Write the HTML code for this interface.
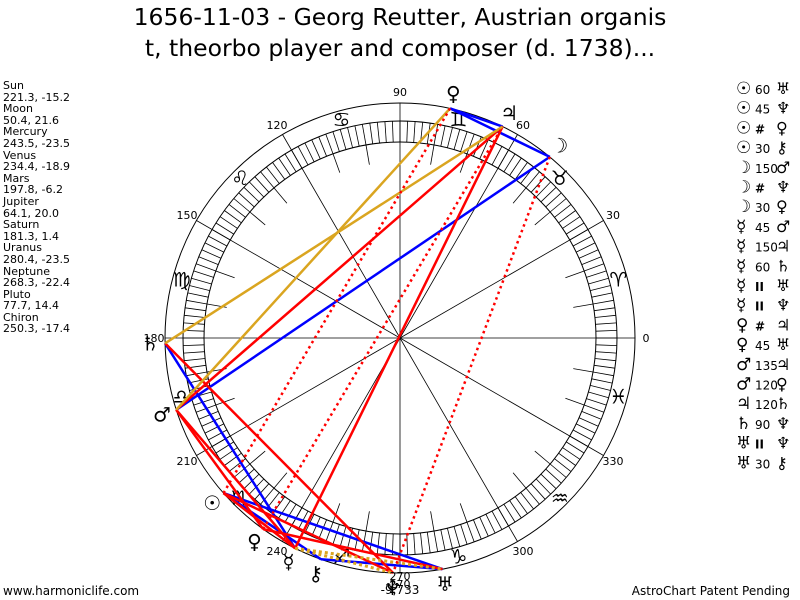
<!DOCTYPE html>
<html><head><meta charset="utf-8"><style>
body{margin:0;background:#fff;width:800px;height:600px;overflow:hidden;position:relative;font-family:"DejaVu Sans","Liberation Sans",sans-serif}
.t{position:absolute;left:0;width:800px;text-align:center;font-size:23.5px;color:#000;white-space:nowrap}
#left{position:absolute;left:3px;top:80px;font-size:11px;line-height:11.6px;color:#000}
</style></head><body>
<div class="t" style="top:3px">1656-11-03 - Georg Reutter, Austrian organis</div>
<div class="t" style="top:34px">t, theorbo player and composer (d. 1738)...</div>
<div id="left">Sun<br>221.3, -15.2<br>Moon<br>50.4, 21.6<br>Mercury<br>243.5, -23.5<br>Venus<br>234.4, -18.9<br>Mars<br>197.8, -6.2<br>Jupiter<br>64.1, 20.0<br>Saturn<br>181.3, 1.4<br>Uranus<br>280.4, -23.5<br>Neptune<br>268.3, -22.4<br>Pluto<br>77.7, 14.4<br>Chiron<br>250.3, -17.4</div>
<svg id="s" width="800" height="600" style="position:absolute;left:0;top:0" xmlns="http://www.w3.org/2000/svg"></svg>
<script>
var s=document.getElementById('s'),cx=400,cy=338,h='';
function P(a,r){var t=a*Math.PI/180;return [cx+r*Math.cos(t),cy-r*Math.sin(t)];}
function L(a,b,st){h+='<line x1="'+a[0].toFixed(1)+'" y1="'+a[1].toFixed(1)+'" x2="'+b[0].toFixed(1)+'" y2="'+b[1].toFixed(1)+'" '+st+'/>';}
function T(x,y,txt,st){h+='<text x="'+x.toFixed(1)+'" y="'+y.toFixed(1)+'" '+st+'>'+txt+'</text>';}
h+='<circle cx="400" cy="338" r="235" fill="none" stroke="#000" stroke-width="1"/>';
h+='<circle cx="400" cy="338" r="217" fill="none" stroke="#000" stroke-width="1"/>';
h+='<circle cx="400" cy="338" r="196" fill="none" stroke="#000" stroke-width="1"/>';
for(var a=0;a<360;a+=2)L(P(a,196),P(a,217),'stroke="#000" stroke-width="0.8"');
for(var a=10;a<360;a+=10)if(a%30)L(P(a,176),P(a,196),'stroke="#000" stroke-width="0.8"');
for(var a=0;a<360;a+=30)L(P(a,0),P(a,235),'stroke="#000" stroke-width="0.8"');
for(var a=0;a<360;a+=30){var p=P(a,246);T(p[0],p[1]+4,String(a),'font-size="11" text-anchor="middle" fill="#000"');}
var signs='♈♉♊♋♌♍♎♏♐♑♒♓';
for(var i=0;i<12;i++){var p=P(15+30*i,226);T(p[0],p[1]+7,signs[i],'font-size="20" text-anchor="middle" fill="#000"');}
var pl={su:221.3,mo:50.4,me:243.5,ve:234.4,ma:197.8,ju:64.1,sa:181.3,ur:280.4,ne:268.3,pl:77.7,ch:250.3};
var gl={su:'☉',mo:'☽',me:'☿',ve:'♀',ma:'♂',ju:'♃',sa:'♄',ur:'♅',ne:'♆',pl:'♀',ch:'⚷'};
var asp=[
['su','ur','b'],['su','ch','b'],['mo','ma','b'],['mo','pl','b'],['sa','me','b'],['ur','ch','b'],['ju','pl','b'],
['ju','ma','r'],['ju','me','r'],['sa','ne','r'],['ma','me','r'],['ve','ur','r'],['su','ne','r'],['ma','ve','r'],['su','me','r'],
['sa','ju','g'],['ma','pl','g'],
['me','ur','gd'],['me','ne','gd'],
['mo','ne','rd'],['su','pl','rd'],['ve','ju','rd']];
var st={b:'stroke="#0000ff" stroke-width="2.5"',r:'stroke="#ff0000" stroke-width="2.5"',g:'stroke="#daa520" stroke-width="2.5"',gd:'stroke="#daa520" stroke-width="3" stroke-dasharray="3,3"',rd:'stroke="#ff0000" stroke-width="2.5" stroke-dasharray="2.5,3.5"'};
asp.forEach(function(x){L(P(pl[x[0]],235),P(pl[x[1]],235),st[x[2]]);});
for(var k in pl){var p=P(pl[k],250);T(p[0],p[1]+7,gl[k],'font-size="20" text-anchor="middle" fill="#000"');}
var rows=[['☉','60','♅'],['☉','45','♆'],['☉','#','♀'],['☉','30','⚷'],['☽','150','♂'],['☽','#','♆'],['☽','30','♀'],['☿','45','♂'],['☿','150','♃'],['☿','60','♄'],['☿','II','♅'],['☿','II','♆'],['♀','#','♃'],['♀','45','♅'],['♂','135','♃'],['♂','120','♀'],['♃','120','♄'],['♄','90','♆'],['♅','II','♆'],['♅','30','⚷']];
rows.forEach(function(r,i){var y=94+i*19.7;T(736,y,r[0],'font-size="17" fill="#000"');T(755,y,r[1],'font-size="12" fill="#000"'+(r[1]=='#'||r[1]=='II'?' font-weight="bold" font-size="14"':''));T(776,y,r[2],'font-size="16" fill="#000"');});
T(400,580,'270','font-size="11" text-anchor="middle" fill="#000"');
T(400,594,'-9,733','font-size="12" text-anchor="middle" fill="#000"');
T(3,595,'www.harmoniclife.com','font-size="12" fill="#000"');
T(790,595,'AstroChart Patent Pending','font-size="12" text-anchor="end" fill="#000"');
s.innerHTML=h;
</script>
</body></html>
